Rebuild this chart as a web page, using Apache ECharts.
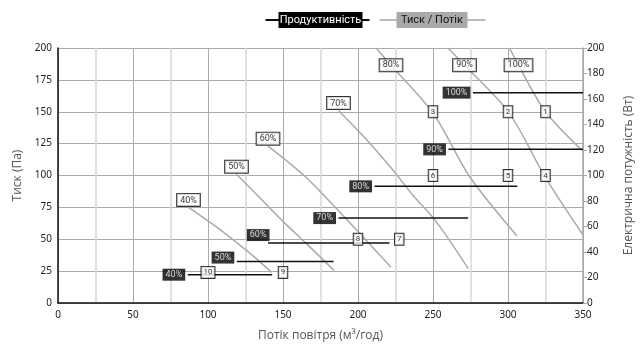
<!DOCTYPE html>
<html>
<head>
<meta charset="utf-8">
<script src="https://cdn.jsdelivr.net/npm/echarts@6/dist/echarts.min.js"></script>
<style>
  html, body { margin: 0; padding: 0; background: #fff; }
  #chart { width: 643px; height: 347px; }
</style>
</head>
<body>
<div id="chart"></div>
<script>
  // швидкості вентилятора
  var speeds = ['40%', '50%', '60%', '70%', '80%', '90%', '100%'];

  // тиск / потік: [потік м3/год, тиск Па]
  var curve40 = [[87, 75], [104, 61], [119, 47.5], [131, 36], [142.5, 24]];
  var curve50 = [[119, 101], [135, 82], [150, 64], [167, 45], [184, 25.5]];
  var curve60 = [[140, 123], [153, 111], [165, 99], [178, 83.5], [200, 56], [222, 28]];
  var curve70 = [[187, 151], [205, 129], [222, 106], [237, 84], [252, 64], [273.5, 27]];
  var curve80 = [[212, 200], [222, 186.5], [250, 149], [274.5, 99], [306, 52.5]];
  var curve90 = [[260, 200], [271, 186.5], [300.5, 149.5], [324.7, 99], [350, 53.5]];
  var curve100 = [[301, 200], [307, 186.5], [325, 150], [350, 119]];
  var pressureCurves = [curve40, curve50, curve60, curve70, curve80, curve90, curve100];
  // на якій точці кривої стоїть підпис
  var curveLabelIndex = [0, 0, 0, 0, 1, 1, 1];

  // продуктивність: потужність (Вт) і діапазон потоку
  var powerValues = [22.2, 32.5, 47, 66.6, 91.5, 120.5, 165];
  var powerFlowStart = [86.5, 119.2, 140, 187, 211, 260.3, 276.6];
  var powerFlowEnd = [142.8, 183.7, 221, 273.4, 306.2, 350, 350];

  // робочі точки
  var pointNames = ['1', '2', '3', '4', '5', '6', '7', '8', '9', '10'];
  var pointFlow = [325, 300, 250, 325, 300, 250, 227.5, 200, 150, 100];
  var pointPressure = [150, 150, 150, 100, 100, 100, 50, 50, 24, 24];

  var chart = echarts.init(document.getElementById('chart'));

  var boxFont = 'Roboto';
  var series = [];

  speeds.forEach(function (s, i) {
    series.push({
      name: 'Тиск / Потік ' + s,
      type: 'line',
      yAxisIndex: 0,
      smooth: 0.3,
      symbol: 'none',
      silent: true,
      z: 2,
      lineStyle: { color: '#aaa', width: 1.5 },
      data: pressureCurves[i]
    });
  });

  speeds.forEach(function (s, i) {
    series.push({
      name: 'Продуктивність ' + s,
      type: 'line',
      yAxisIndex: 1,
      symbol: 'none',
      silent: true,
      z: 3,
      lineStyle: { color: '#111', width: 1.5 },
      data: [[powerFlowStart[i], powerValues[i]], [powerFlowEnd[i], powerValues[i]]]
    });
  });

  // підписи кривих тиску
  series.push({
    type: 'scatter',
    yAxisIndex: 0,
    symbolSize: 1,
    z: 5,
    silent: true,
    itemStyle: { color: 'rgba(0,0,0,0)' },
    data: speeds.map(function (s, i) {
      var p = pressureCurves[i][curveLabelIndex[i]];
      return {
        value: [p[0], p[1], s],
        label: {
          position: curveLabelIndex[i] === 0 ? 'top' : 'inside',
          distance: 1
        }
      };
    }),
    label: {
      show: true,
      formatter: function (p) { return p.value[2]; },
      fontFamily: boxFont,
      fontSize: 9,
      color: '#000',
      backgroundColor: '#fff',
      borderColor: '#000',
      borderWidth: 1,
      padding: [2, 3, 1, 3]
    }
  });

  // підписи продуктивності
  var powerLabelOffset = [[0, 0], [0, -4], [4, -8], [0, 0], [0, 0], [0, 0], [0, 0]];
  series.push({
    type: 'scatter',
    yAxisIndex: 1,
    symbolSize: 1,
    z: 5,
    silent: true,
    itemStyle: { color: 'rgba(0,0,0,0)' },
    data: speeds.map(function (s, i) {
      return {
        value: [powerFlowStart[i], powerValues[i], s],
        label: { offset: powerLabelOffset[i] }
      };
    }),
    label: {
      show: true,
      position: 'left',
      distance: 2,
      formatter: function (p) { return p.value[2]; },
      fontFamily: boxFont,
      fontSize: 9,
      color: '#fff',
      backgroundColor: '#000',
      padding: [2, 3, 1, 3]
    }
  });

  // робочі точки 1..10
  series.push({
    type: 'scatter',
    yAxisIndex: 0,
    symbolSize: 1,
    z: 6,
    silent: true,
    itemStyle: { color: 'rgba(0,0,0,0)' },
    data: pointNames.map(function (n, i) {
      return [pointFlow[i], pointPressure[i], n];
    }),
    label: {
      show: true,
      position: 'inside',
      formatter: function (p) { return p.value[2]; },
      fontFamily: boxFont,
      fontSize: 8,
      color: '#000',
      backgroundColor: '#fff',
      borderColor: '#000',
      borderWidth: 1,
      padding: [2, 2, 1, 2]
    }
  });

  var option = {
    backgroundColor: '#fff',
    animation: false,
    grid: {
      left: 58,
      right: 51,
      top: 48,
      bottom: 39
    },
    xAxis: {
      type: 'value',
      min: 0,
      max: 350,
      interval: 50,
      name: 'Потік повітря (м³/год)',
      nameLocation: 'middle',
      nameGap: 27,
      nameTextStyle: { fontFamily: 'Open Sans', fontSize: 12, color: '#555' },
      axisLine: { lineStyle: { color: '#111', width: 1.5 } },
      axisTick: { show: false },
      axisLabel: { fontFamily: 'Noto Sans', fontSize: 10, color: '#222', margin: 7 },
      splitLine: { lineStyle: { color: '#aaa', width: 1 } },
      minorTick: { show: false, splitNumber: 2 },
      minorSplitLine: { show: true, lineStyle: { color: '#d8d8d8', width: 1.5 } }
    },
    yAxis: [
      {
        type: 'value',
        min: 0,
        max: 200,
        interval: 25,
        name: 'Тиск (Па)',
        nameLocation: 'middle',
        nameGap: 34,
        nameTextStyle: { fontFamily: 'Open Sans', fontSize: 12, color: '#555' },
        axisLine: { show: true, lineStyle: { color: '#111', width: 1.5 } },
        axisTick: { show: false },
        axisLabel: { fontFamily: 'Noto Sans', fontSize: 10, color: '#222', margin: 6 },
        splitLine: { lineStyle: { color: '#aaa', width: 1 } }
      },
      {
        type: 'value',
        position: 'right',
        min: 0,
        max: 200,
        interval: 20,
        name: 'Електрична потужність (Вт)',
        nameLocation: 'middle',
        nameGap: 40,
        nameTextStyle: { fontFamily: 'Open Sans', fontSize: 12, color: '#555' },
        axisLine: { show: true, lineStyle: { color: '#aaa', width: 1.5 } },
        axisTick: { show: true, length: 4, lineStyle: { color: '#aaa' } },
        axisLabel: { fontFamily: 'Noto Sans', fontSize: 10, color: '#222', margin: 4 },
        splitLine: { show: false }
      }
    ],
    graphic: [
      {
        type: 'group',
        left: 263,
        top: 12,
        children: [
          { type: 'line', shape: { x1: 0, y1: 8, x2: 104, y2: 8 }, style: { stroke: '#111', lineWidth: 2 } },
          { type: 'rect', shape: { x: 13, y: 0, width: 84, height: 16 }, style: { fill: '#000' } },
          {
            type: 'text', x: 55, y: 8,
            style: { text: 'Продуктивність', fill: '#fff', font: '11px Roboto', align: 'center', verticalAlign: 'middle' }
          }
        ]
      },
      {
        type: 'group',
        left: 377,
        top: 12,
        children: [
          { type: 'line', shape: { x1: 0, y1: 8, x2: 106, y2: 8 }, style: { stroke: '#bbb', lineWidth: 2 } },
          { type: 'rect', shape: { x: 17, y: 0, width: 71, height: 16 }, style: { fill: '#aaa' } },
          {
            type: 'text', x: 52.5, y: 8,
            style: { text: 'Тиск / Потік', fill: '#111', font: '11px Roboto', align: 'center', verticalAlign: 'middle' }
          }
        ]
      }
    ],
    series: series
  };

  chart.setOption(option);
</script>
</body>
</html>
